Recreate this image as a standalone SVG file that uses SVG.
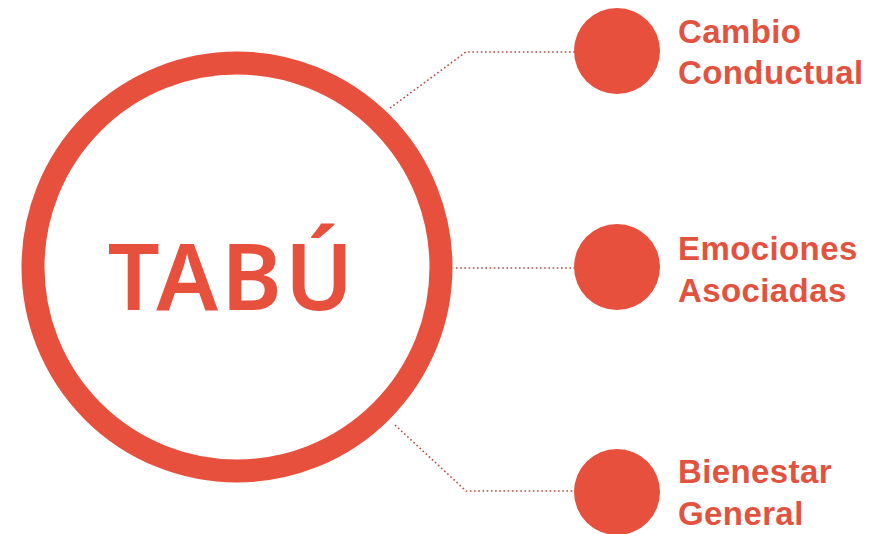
<svg xmlns="http://www.w3.org/2000/svg" width="875" height="534" viewBox="0 0 875 534">
<style>
.dot{fill:#e8503e}
.lbl{font-family:"Liberation Sans",Arial,sans-serif;font-weight:bold;font-size:33px;letter-spacing:0.4px;fill:#e2533f}
.con{fill:none;stroke:#b8483e;stroke-width:1.6;stroke-dasharray:1.6 2.6}
</style>
<rect width="875" height="534" fill="#ffffff"/>
<g id="connectors">
<polyline class="con" points="390,108 466,52 575,52"/>
<line class="con" x1="456" y1="268" x2="575" y2="268"/>
<polyline class="con" points="395,425 466,491 575,491"/>
</g>
<g id="tabu">
<circle cx="237" cy="267" r="204" fill="none" stroke="#e8503e" stroke-width="23"/>
<text x="232" y="310" text-anchor="middle" font-family="'Noto Sans','Liberation Sans',sans-serif" font-weight="600" font-size="92" letter-spacing="3" fill="#e8503e">TABÚ</text>
</g>
<g id="cambio">
<circle class="dot" cx="617" cy="51" r="43"/>
<text class="lbl" x="678" y="43">Cambio</text>
<text class="lbl" x="678" y="84">Conductual</text>
</g>
<g id="emociones">
<circle class="dot" cx="617" cy="267" r="43"/>
<text class="lbl" x="678" y="260">Emociones</text>
<text class="lbl" x="678" y="302">Asociadas</text>
</g>
<g id="bienestar">
<circle class="dot" cx="617" cy="492" r="43"/>
<text class="lbl" x="678" y="483">Bienestar</text>
<text class="lbl" x="678" y="525">General</text>
</g>
</svg>
